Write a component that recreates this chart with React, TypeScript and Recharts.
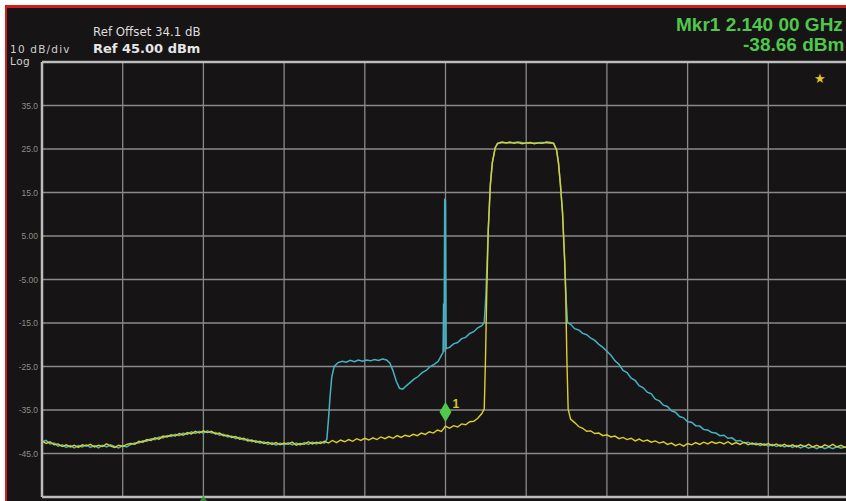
import React from "react";
import { LineChart, Line, XAxis, YAxis, CartesianGrid, ReferenceLine, ReferenceDot } from "recharts";

// Frequency axis (MHz): centre 2140 MHz, span 50 MHz, 10 divisions
const freqTicks = [2115, 2120, 2125, 2130, 2135, 2140, 2145, 2150, 2155, 2160, 2165];
// Level axis (dBm): ref 45 dBm, 10 dB/div
const levelTicks = [45, 35, 25, 15, 5, -5, -15, -25, -35, -45, -55];
const labelledLevels = [35, 25, 15, 5, -5, -15, -25, -35, -45];

const markerFreq = 2140.0;
const markerLevel = -38.66;
const markerLabel = "1";
const centreMarkerFreq = 2125;

const headerOffset = "Ref Offset 34.1 dB";
const headerRef = "Ref 45.00 dBm";
const headerScale = "10 dB/div";
const headerLog = "Log";
const markerLine1 = "Mkr1 2.140 00 GHz";
const markerLine2 = "-38.66 dBm";

// Yellow trace: [frequency MHz, level dBm]
const yellowTrace: [number, number][] = [
  [2115.0, -42.1], [2115.25, -42.7], [2115.5, -42.3], [2115.75, -43.0], [2116.0, -42.8], [2116.25, -43.4],
  [2116.5, -43.0], [2116.75, -43.5], [2117.0, -43.1], [2117.25, -43.6], [2117.5, -43.0], [2117.75, -43.3],
  [2118.0, -42.9], [2118.25, -43.5], [2118.5, -43.1], [2118.75, -43.4], [2119.0, -42.8], [2119.25, -43.3],
  [2119.5, -43.6], [2119.75, -43.1], [2120.0, -43.4], [2120.25, -42.9], [2120.5, -42.7], [2120.75, -42.9],
  [2121.0, -42.2], [2121.25, -42.4], [2121.5, -41.8], [2121.75, -42.0], [2122.0, -41.4], [2122.25, -41.7],
  [2122.5, -41.0], [2122.75, -41.2], [2123.0, -40.7], [2123.25, -41.0], [2123.5, -40.4], [2123.75, -40.8],
  [2124.0, -40.2], [2124.25, -40.5], [2124.5, -39.9], [2124.75, -40.3], [2125.0, -39.8], [2125.25, -40.2],
  [2125.5, -39.9], [2125.75, -40.5], [2126.0, -40.3], [2126.25, -40.9], [2126.5, -40.8], [2126.75, -41.3],
  [2127.0, -41.1], [2127.25, -41.7], [2127.5, -41.5], [2127.75, -42.1], [2128.0, -41.9], [2128.25, -42.4],
  [2128.5, -42.2], [2128.75, -42.7], [2129.0, -42.4], [2129.25, -42.9], [2129.5, -42.5], [2129.75, -43.0],
  [2130.0, -42.6], [2130.25, -42.9], [2130.5, -42.4], [2130.75, -43.1], [2131.0, -42.7], [2131.25, -42.9],
  [2131.5, -42.3], [2131.75, -42.8], [2132.0, -42.4], [2132.25, -42.7], [2132.5, -42.2], [2132.75, -42.6],
  [2133.0, -42.0], [2133.25, -42.5], [2133.5, -41.9], [2133.75, -42.3], [2134.0, -41.8], [2134.25, -42.2],
  [2134.5, -41.6], [2134.75, -42.0], [2135.0, -41.5], [2135.25, -41.9], [2135.5, -41.4], [2135.75, -41.8],
  [2136.0, -41.2], [2136.25, -41.6], [2136.5, -41.1], [2136.75, -41.5], [2137.0, -40.9], [2137.25, -41.3],
  [2137.5, -40.8], [2137.75, -41.1], [2138.0, -40.6], [2138.25, -40.9], [2138.5, -40.3], [2138.75, -40.6],
  [2139.0, -40.0], [2139.25, -40.3], [2139.5, -39.6], [2139.75, -39.9], [2140.0, -38.7], [2140.25, -39.2],
  [2140.5, -38.6], [2140.75, -38.9], [2141.0, -38.2], [2141.25, -38.4], [2141.5, -37.7], [2141.75, -37.6],
  [2142.0, -36.9], [2142.25, -35.8], [2142.4, -34.8], [2142.48, -23.0], [2142.55, -9.0], [2142.65, 6.5],
  [2142.78, 16.8], [2142.9, 21.8], [2143.08, 25.3], [2143.22, 26.3], [2143.5, 26.6], [2143.75, 26.4],
  [2144.0, 26.6], [2144.25, 26.3], [2144.5, 26.5], [2144.75, 26.2], [2145.0, 26.4], [2145.25, 26.5],
  [2145.5, 26.2], [2145.75, 26.4], [2146.0, 26.3], [2146.25, 26.6], [2146.5, 26.5], [2146.7, 26.3],
  [2146.88, 24.8], [2147.0, 21.8], [2147.12, 16.8], [2147.25, 10.4], [2147.38, -0.4], [2147.45, -8.9],
  [2147.52, -23.3], [2147.6, -34.8], [2147.75, -37.1], [2148.0, -37.9], [2148.25, -38.8], [2148.5, -39.2],
  [2148.75, -39.9], [2149.0, -39.8], [2149.25, -40.4], [2149.5, -40.3], [2149.75, -40.9], [2150.0, -40.7],
  [2150.25, -41.2], [2150.5, -41.0], [2150.75, -41.6], [2151.0, -41.3], [2151.25, -41.8], [2151.5, -41.5],
  [2151.75, -42.1], [2152.0, -41.7], [2152.25, -42.2], [2152.5, -41.9], [2152.75, -42.4], [2153.0, -42.1],
  [2153.25, -42.6], [2153.5, -42.3], [2153.75, -42.9], [2154.0, -42.6], [2154.25, -43.2], [2154.5, -42.8],
  [2154.75, -43.3], [2155.0, -42.7], [2155.25, -43.0], [2155.5, -42.5], [2155.75, -42.9], [2156.0, -42.4],
  [2156.25, -42.8], [2156.5, -42.3], [2156.75, -42.7], [2157.0, -42.4], [2157.25, -42.8], [2157.5, -42.3],
  [2157.75, -42.9], [2158.0, -42.5], [2158.25, -42.9], [2158.5, -42.4], [2158.75, -43.0], [2159.0, -42.6],
  [2159.25, -43.0], [2159.5, -42.7], [2159.75, -43.1], [2160.0, -42.7], [2160.25, -43.2], [2160.5, -42.8],
  [2160.75, -43.3], [2161.0, -42.9], [2161.25, -43.4], [2161.5, -43.0], [2161.75, -43.5], [2162.0, -43.0],
  [2162.25, -43.4], [2162.5, -42.9], [2162.75, -43.5], [2163.0, -43.1], [2163.25, -43.6], [2163.5, -43.0],
  [2163.75, -43.4], [2164.0, -42.9], [2164.25, -43.5], [2164.5, -43.1], [2164.75, -43.6], [2165.0, -43.2],
];

// Cyan trace: [frequency MHz, level dBm]
const cyanTrace: [number, number][] = [
  [2115.0, -42.3], [2115.25, -42.0], [2115.5, -42.8], [2115.75, -42.6], [2116.0, -43.3], [2116.25, -43.0],
  [2116.5, -43.6], [2116.75, -43.2], [2117.0, -43.7], [2117.25, -43.2], [2117.5, -43.5], [2117.75, -43.0],
  [2118.0, -43.6], [2118.25, -43.2], [2118.5, -43.7], [2118.75, -43.1], [2119.0, -43.5], [2119.25, -43.0],
  [2119.5, -43.4], [2119.75, -43.7], [2120.0, -43.2], [2120.25, -43.5], [2120.5, -42.9], [2120.75, -42.6],
  [2121.0, -42.6], [2121.25, -42.1], [2121.5, -42.2], [2121.75, -41.6], [2122.0, -41.8], [2122.25, -41.2],
  [2122.5, -41.4], [2122.75, -40.9], [2123.0, -41.1], [2123.25, -40.6], [2123.5, -40.9], [2123.75, -40.3],
  [2124.0, -40.6], [2124.25, -40.0], [2124.5, -40.4], [2124.75, -39.9], [2125.0, -40.3], [2125.25, -39.8],
  [2125.5, -40.3], [2125.75, -40.2], [2126.0, -40.8], [2126.25, -40.6], [2126.5, -41.2], [2126.75, -41.0],
  [2127.0, -41.6], [2127.25, -41.3], [2127.5, -41.9], [2127.75, -41.7], [2128.0, -42.3], [2128.25, -42.0],
  [2128.5, -42.6], [2128.75, -42.3], [2129.0, -42.9], [2129.25, -42.5], [2129.5, -43.1], [2129.75, -42.6],
  [2130.0, -43.0], [2130.25, -42.5], [2130.5, -43.0], [2130.75, -42.6], [2131.0, -43.0], [2131.25, -42.5],
  [2131.5, -42.9], [2131.75, -42.4], [2132.0, -42.8], [2132.25, -42.3], [2132.5, -42.6], [2132.65, -41.7],
  [2132.75, -37.1], [2132.85, -31.8], [2132.95, -27.5], [2133.1, -25.0], [2133.35, -24.1], [2133.6, -23.8],
  [2133.85, -24.0], [2134.1, -23.6], [2134.35, -23.9], [2134.6, -23.5], [2134.85, -23.8], [2135.1, -23.5],
  [2135.35, -23.7], [2135.6, -23.4], [2135.85, -23.6], [2136.1, -23.3], [2136.35, -23.5], [2136.55, -24.2],
  [2136.75, -26.0], [2136.95, -28.4], [2137.15, -30.0], [2137.35, -30.2], [2137.55, -29.5], [2137.8, -28.7],
  [2138.05, -27.9], [2138.3, -27.3], [2138.55, -26.4], [2138.8, -25.9], [2139.05, -25.0], [2139.3, -24.5],
  [2139.55, -23.8], [2139.75, -22.4], [2139.85, -21.8], [2139.88, -10.5], [2139.91, -21.6], [2139.95, 13.3],
  [2140.0, 13.1], [2140.04, -20.9], [2140.25, -20.6], [2140.5, -19.8], [2140.75, -19.5], [2141.0, -18.6],
  [2141.25, -18.3], [2141.5, -17.4], [2141.75, -17.0], [2142.0, -16.1], [2142.25, -15.6], [2142.4, -14.9],
  [2142.5, -8.9], [2142.65, 6.5], [2142.78, 16.8], [2142.9, 21.8], [2143.08, 25.3], [2143.22, 26.2],
  [2143.5, 26.5], [2144.0, 26.4], [2144.5, 26.6], [2145.0, 26.3], [2145.5, 26.4], [2146.0, 26.5],
  [2146.5, 26.3], [2146.7, 26.3], [2146.88, 24.8], [2147.0, 21.8], [2147.12, 16.8], [2147.25, 10.4],
  [2147.38, -0.4], [2147.48, -10.0], [2147.56, -14.9], [2147.75, -15.3], [2148.0, -16.3], [2148.25, -16.6],
  [2148.5, -17.4], [2148.75, -17.7], [2149.0, -18.5], [2149.25, -19.0], [2149.5, -19.9], [2149.75, -20.6],
  [2150.0, -21.5], [2150.25, -22.4], [2150.5, -23.7], [2150.75, -24.5], [2151.0, -25.9], [2151.25, -26.4],
  [2151.5, -27.7], [2151.75, -28.2], [2152.0, -29.4], [2152.25, -29.9], [2152.5, -30.9], [2152.75, -31.3],
  [2153.0, -32.5], [2153.25, -32.9], [2153.5, -33.9], [2153.75, -34.2], [2154.0, -35.2], [2154.25, -35.5],
  [2154.5, -36.5], [2154.75, -36.8], [2155.0, -37.7], [2155.25, -37.8], [2155.5, -38.6], [2155.75, -38.7],
  [2156.0, -39.5], [2156.25, -39.6], [2156.5, -40.2], [2156.75, -40.3], [2157.0, -40.9], [2157.25, -40.8],
  [2157.5, -41.5], [2157.75, -41.4], [2158.0, -42.1], [2158.25, -42.0], [2158.5, -42.6], [2158.75, -42.4],
  [2159.0, -42.9], [2159.25, -42.6], [2159.5, -43.2], [2159.75, -42.8], [2160.0, -43.3], [2160.25, -42.9],
  [2160.5, -43.4], [2160.75, -43.0], [2161.0, -43.5], [2161.25, -43.1], [2161.5, -43.6], [2161.75, -43.2],
  [2162.0, -43.7], [2162.25, -43.3], [2162.5, -43.8], [2162.75, -43.4], [2163.0, -43.9], [2163.25, -43.4],
  [2163.5, -43.9], [2163.75, -43.5], [2164.0, -43.9], [2164.25, -43.4], [2164.5, -43.8], [2164.75, -43.5],
  [2165.0, -43.7],
];

const yellowData = yellowTrace.map(([f, v]) => ({ f, v }));
const cyanData = cyanTrace.map(([f, v]) => ({ f, v }));

const YELLOW = "#ddd02a";
const CYAN = "#45b3c4";
const GREEN = "#4fc84c";
const GRID = "#8a8a8a";
const BORDER = "#bdbdbd";

const LevelTick = (props: any) => {
  const { x, y, payload } = props;
  if (!labelledLevels.includes(payload.value)) return null;
  return (
    <text x={x} y={y} dy={3} textAnchor="end" fill="#8e8e8e" fontSize={8.5} fontFamily="Liberation Sans, Arial, sans-serif">
      {Number(payload.value).toPrecision(3)}
    </text>
  );
};

const MarkerDiamond = (props: any) => {
  const { cx, cy } = props;
  if (cx == null || cy == null) return null;
  const tip = cy - 4;
  return (
    <g>
      <polygon points={`${cx},${tip} ${cx + 6},${tip - 10} ${cx},${tip - 20} ${cx - 6},${tip - 10}`} fill={GREEN} />
      <text x={cx + 7} y={tip - 14} fill="#d8c52a" fontSize={12} fontWeight="bold" fontFamily="Liberation Sans, Arial, sans-serif">
        {markerLabel}
      </text>
    </g>
  );
};

const BottomTriangle = (props: any) => {
  const { cx, cy } = props;
  if (cx == null || cy == null) return null;
  return <polygon points={`${cx - 4},${cy + 5} ${cx + 4},${cy + 5} ${cx},${cy - 2}`} fill="#3c9a3c" opacity={0.8} />;
};

const txt: React.CSSProperties = { position: "absolute", whiteSpace: "nowrap", lineHeight: 1 };

export default function App() {
  return (
    <div style={{ position: "fixed", left: 0, top: 0, width: 846, height: 501, overflow: "hidden", background: "#ffffff" }}>
      <div
        style={{
          position: "absolute",
          left: 5,
          top: 5,
          width: 900,
          height: 520,
          background: "#161414",
          borderTop: "3px solid #d31d1d",
          borderLeft: "2px solid #d31d1d",
        }}
      />
      <div style={{ position: "absolute", left: 0, top: 0 }}>
        <LineChart width={860} height={501} margin={{ top: 62, right: 11, bottom: 4, left: 0 }}>
          <CartesianGrid stroke={GRID} strokeWidth={1.3} />
          <XAxis dataKey="f" type="number" domain={[2115, 2165]} ticks={freqTicks} allowDataOverflow hide />
          <YAxis
            type="number"
            domain={[-55, 45]}
            ticks={levelTicks}
            width={42}
            axisLine={false}
            tickLine={false}
            tickSize={0}
            tickMargin={4}
            tick={<LevelTick />}
            interval={0}
          />
          <ReferenceLine y={45} stroke={BORDER} strokeWidth={2.5} />
          <ReferenceLine y={-55} stroke={BORDER} strokeWidth={2.5} />
          <ReferenceLine x={2115} stroke={BORDER} strokeWidth={2.5} />
          <Line data={cyanData} dataKey="v" stroke={CYAN} strokeWidth={1.5} dot={false} isAnimationActive={false} />
          <Line data={yellowData} dataKey="v" stroke={YELLOW} strokeWidth={1.4} dot={false} isAnimationActive={false} />
          <ReferenceDot x={markerFreq} y={markerLevel} r={0} shape={<MarkerDiamond />} />
          <ReferenceDot x={centreMarkerFreq} y={-55} r={0} shape={<BottomTriangle />} />
        </LineChart>
      </div>
      <div style={{ ...txt, left: 93, top: 27, fontSize: 11.8, color: "#dcdcdc", fontFamily: "DejaVu Sans, sans-serif" }}>{headerOffset}</div>
      <div style={{ ...txt, left: 93, top: 42, fontSize: 13, fontWeight: "bold", color: "#e6e6e6", fontFamily: "DejaVu Sans, sans-serif" }}>{headerRef}</div>
      <div style={{ ...txt, left: 10, top: 44, fontSize: 10.5, letterSpacing: 1.2, color: "#cfcfcf", fontFamily: "DejaVu Sans, sans-serif" }}>{headerScale}</div>
      <div style={{ ...txt, left: 10, top: 56, fontSize: 10.5, letterSpacing: 0.5, color: "#cfcfcf", fontFamily: "DejaVu Sans, sans-serif" }}>{headerLog}</div>
      <div style={{ ...txt, left: 676, top: 15, fontSize: 19, fontWeight: "bold", color: GREEN, fontFamily: "Liberation Sans, Arial, sans-serif" }}>{markerLine1}</div>
      <div style={{ ...txt, left: 743, top: 35, fontSize: 19, fontWeight: "bold", color: GREEN, fontFamily: "Liberation Sans, Arial, sans-serif" }}>{markerLine2}</div>
      <div style={{ ...txt, left: 814, top: 72, fontSize: 13, color: "#e6c62a", fontFamily: "DejaVu Sans, sans-serif" }}>★</div>
    </div>
  );
}
